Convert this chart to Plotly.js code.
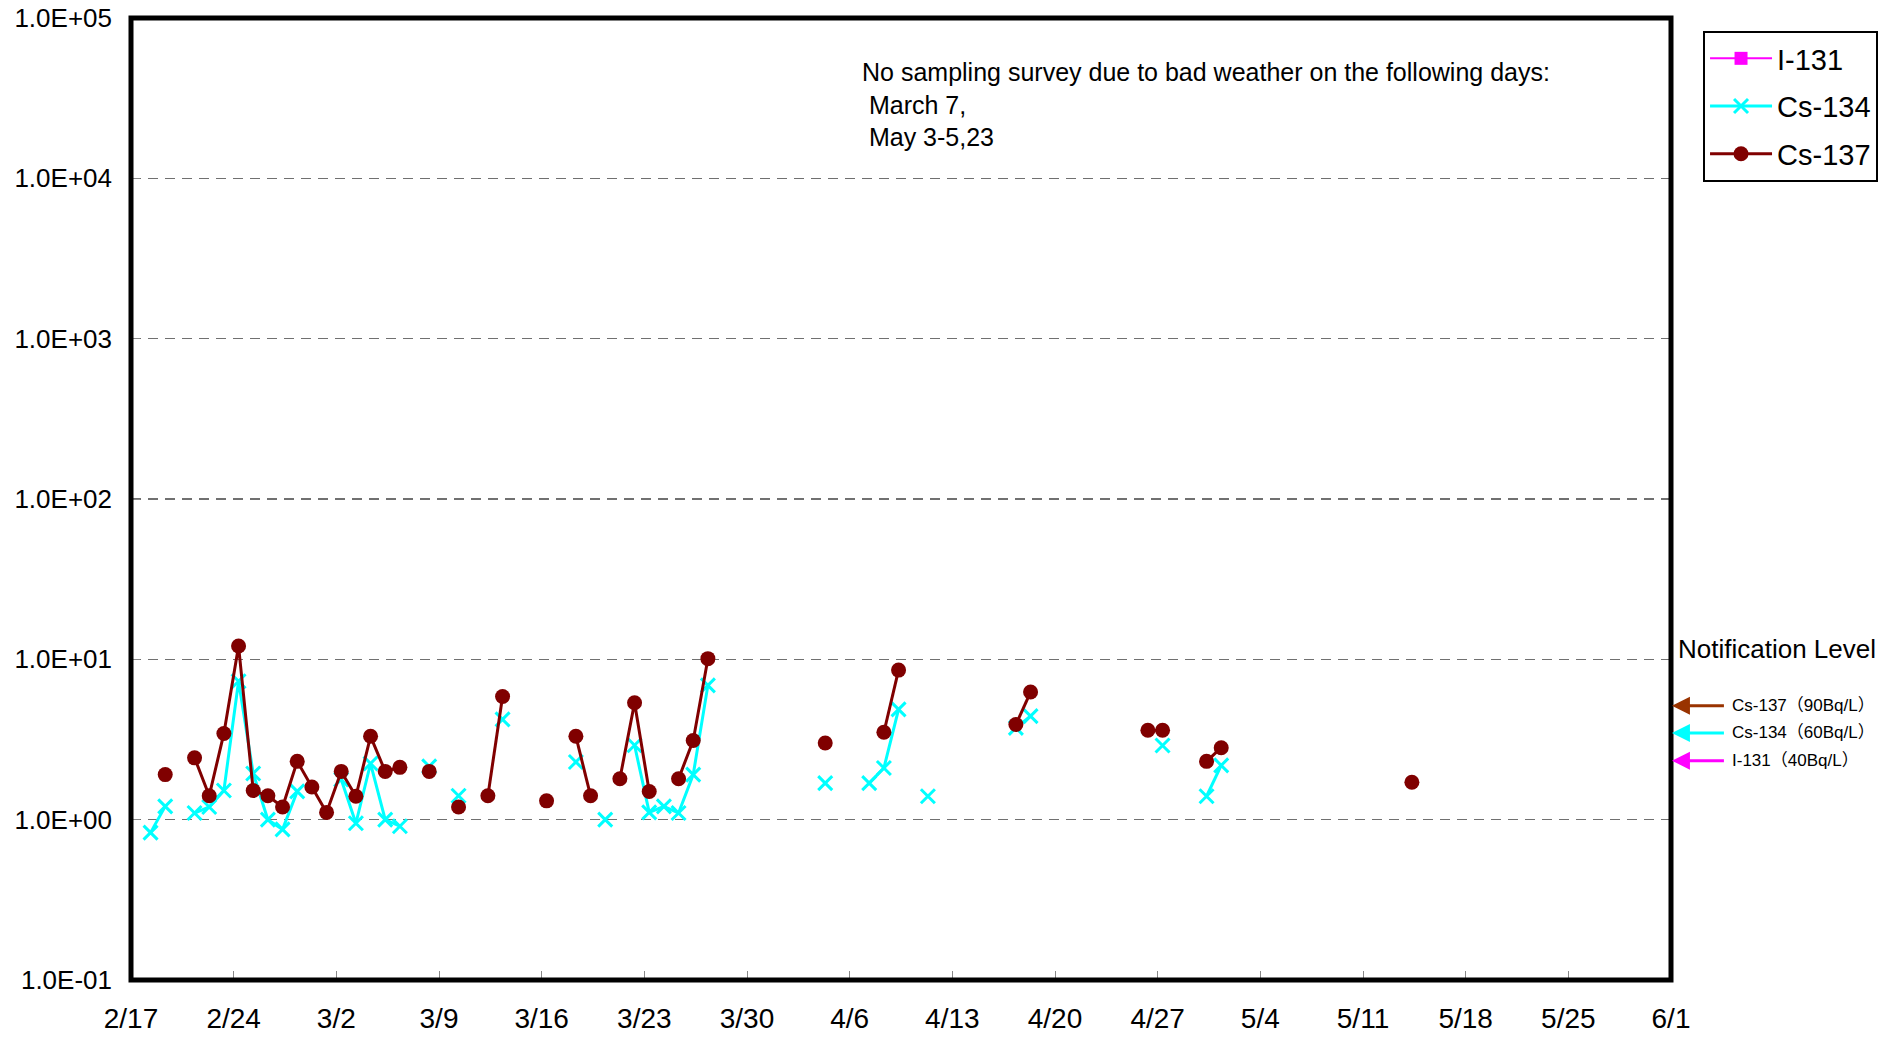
<!DOCTYPE html>
<html>
<head>
<meta charset="utf-8">
<script src="https://cdn.plot.ly/plotly-3.0.1.min.js"></script>
<style>html,body{margin:0;padding:0;background:#fff;}#chart{width:1897px;height:1037px;}</style>
</head>
<body>
<div id="chart"></div>
<script>
// ---- data (Bq/L), year 2012; missing values = not detected ----
const i131Dates = [];
const i131Values = [];

const cs134Dates = [
  '2012-02-18','2012-02-19','2012-02-21','2012-02-22','2012-02-23','2012-02-24','2012-02-25','2012-02-26',
  '2012-02-27','2012-02-28','2012-03-02','2012-03-03','2012-03-04','2012-03-05','2012-03-06','2012-03-08',
  '2012-03-10','2012-03-13','2012-03-18','2012-03-20','2012-03-22','2012-03-23','2012-03-24','2012-03-25',
  '2012-03-26','2012-03-27','2012-04-04','2012-04-07','2012-04-08','2012-04-09','2012-04-11','2012-04-17',
  '2012-04-18','2012-04-27','2012-04-30','2012-05-01'
];
const cs134Values = [
  0.83, 1.21, 1.10, 1.20, 1.52, 7.3, 1.94, 1.00,
  0.87, 1.50, 1.78, 0.95, 2.24, 1.00, 0.91, 2.15,
  1.41, 4.22, 2.29, 1.00, 2.91, 1.11, 1.21, 1.10,
  1.91, 6.88, 1.69, 1.69, 2.10, 4.87, 1.40, 3.74,
  4.42, 2.90, 1.40, 2.18
];

const cs137Dates = [
  '2012-02-19','2012-02-21','2012-02-22','2012-02-23','2012-02-24','2012-02-25','2012-02-26','2012-02-27',
  '2012-02-28','2012-02-29','2012-03-01','2012-03-02','2012-03-03','2012-03-04','2012-03-05','2012-03-06',
  '2012-03-08','2012-03-10','2012-03-12','2012-03-13','2012-03-16','2012-03-18','2012-03-19','2012-03-21',
  '2012-03-22','2012-03-23','2012-03-25','2012-03-26','2012-03-27','2012-04-04','2012-04-08','2012-04-09',
  '2012-04-17','2012-04-18','2012-04-26','2012-04-27','2012-04-30','2012-05-01','2012-05-14'
];
const cs137Values = [
  1.91, 2.43, 1.41, 3.45, 12.1, 1.52, 1.41, 1.20,
  2.31, 1.60, 1.11, 2.00, 1.40, 3.31, 2.00, 2.12,
  2.00, 1.20, 1.41, 5.87, 1.31, 3.31, 1.41, 1.80,
  5.36, 1.50, 1.80, 3.12, 10.1, 3.01, 3.51, 8.57,
  3.92, 6.25, 3.61, 3.61, 2.31, 2.81, 1.71
];

const xTickDates = ['2012-02-17','2012-02-24','2012-03-02','2012-03-09','2012-03-16','2012-03-23','2012-03-30',
  '2012-04-06','2012-04-13','2012-04-20','2012-04-27','2012-05-04','2012-05-11','2012-05-18','2012-05-25','2012-06-01'];
const xTickLabels = ['2/17','2/24','3/2','3/9','3/16','3/23','3/30','4/6','4/13','4/20','4/27','5/4','5/11','5/18','5/25','6/1'];
const yTickVals = [0.1, 1, 10, 100, 1000, 10000, 100000];
const yTickLabels = ['1.0E-01','1.0E+00','1.0E+01','1.0E+02','1.0E+03','1.0E+04','1.0E+05'];

const noteLines = ['No sampling survey due to bad weather on the following days:', ' March 7,', ' May 3-5,23'];
const levelTitle = 'Notification Level';
const levelLabels = ['Cs-137（90Bq/L）', 'Cs-134（60Bq/L）', 'I-131（40Bq/L）'];

// ---- build traces: break the line where a day has no value ----
const DAY = 86400000;
function build(dates, vals) {
  const xs = [], ys = [];
  for (let i = 0; i < dates.length; i++) {
    if (i > 0 && (new Date(dates[i]) - new Date(dates[i - 1])) > DAY * 1.5) { xs.push(null); ys.push(null); }
    xs.push(dates[i] + ' 08:00'); ys.push(vals[i]);
  }
  return {x: xs, y: ys};
}
const dI = build(i131Dates, i131Values);
const d134 = build(cs134Dates, cs134Values);
const d137 = build(cs137Dates, cs137Values);

const traces = [
  {name: 'I-131', x: dI.x.length ? dI.x : [null], y: dI.y.length ? dI.y : [null], mode: 'lines+markers', legendgroup: 'a',
   line: {color: '#FF00FF', width: 2}, marker: {symbol: 'square', size: 13, color: '#FF00FF'}},
  {name: 'Cs-134', x: d134.x, y: d134.y, mode: 'lines+markers', legendgroup: 'b', connectgaps: false,
   line: {color: '#00FFFF', width: 3}, marker: {symbol: 'x-thin', size: 14, color: '#00FFFF', line: {color: '#00FFFF', width: 3}}},
  {name: 'Cs-137', x: d137.x, y: d137.y, mode: 'lines+markers', legendgroup: 'c', connectgaps: false,
   line: {color: '#800000', width: 3}, marker: {symbol: 'circle', size: 15, color: '#800000'}}
];

const FONT = 'Liberation Sans, Arial, sans-serif';
const arrowColors = ['#993300', '#00FFFF', '#FF00FF'];
const arrowY = [0.2851, 0.2568, 0.2280];

const annotations = [
  {xref: 'paper', yref: 'paper', x: 0.4735, y: 0.96, xanchor: 'left', yanchor: 'top', align: 'left', showarrow: false,
   text: noteLines.join('<br>'), font: {family: FONT, size: 25, color: '#000'}},
  {xref: 'paper', yref: 'paper', x: 1.0035, y: 0.344, xanchor: 'left', yanchor: 'middle', showarrow: false,
   text: levelTitle, font: {family: FONT, size: 26, color: '#000'}}
];
levelLabels.forEach((t, i) => {
  annotations.push({xref: 'paper', yref: 'paper', x: 1.0006, y: arrowY[i], axref: 'pixel', ayref: 'pixel', ax: 58, ay: 0,
    xanchor: 'left', yanchor: 'middle', showarrow: true, arrowhead: 2, arrowsize: 1.2, arrowwidth: 3, arrowcolor: arrowColors[i],
    startstandoff: 6, text: t, font: {family: FONT + ', Noto Sans CJK JP', size: 17, color: '#000'}});
});

const layout = {
  width: 1897, height: 1037,
  margin: {l: 131, r: 226, t: 18, b: 57, pad: 0},
  paper_bgcolor: '#fff', plot_bgcolor: '#fff',
  showlegend: true,
  legend: {x: 1.0208, y: 0.9865, xanchor: 'left', yanchor: 'top', bordercolor: '#000', borderwidth: 2,
    bgcolor: '#fff', font: {family: FONT, size: 29, color: '#000'}, tracegroupgap: 7, traceorder: 'grouped', itemwidth: 62},
  xaxis: {type: 'date', range: ['2012-02-17', '2012-06-01'], tickmode: 'array', tickvals: xTickDates, ticktext: xTickLabels,
    showgrid: false, zeroline: false, showline: false,
    ticks: 'inside', ticklen: 9, tickwidth: 1, tickcolor: '#888', ticklabelstandoff: 19,
    tickfont: {family: FONT, size: 28, color: '#000'}, fixedrange: true},
  yaxis: {type: 'log', range: [-1, 5], tickmode: 'array', tickvals: yTickVals, ticktext: yTickLabels,
    showgrid: true, gridcolor: '#707070', gridwidth: 1.5, griddash: '10px,7px', zeroline: false,
    showline: false,
    ticks: 'inside', ticklen: 9, tickwidth: 1, tickcolor: '#888', ticklabelstandoff: 18,
    tickfont: {family: FONT, size: 26, color: '#000'}, fixedrange: true},
  shapes: [{type: 'rect', xref: 'paper', yref: 'paper', x0: 0, x1: 1, y0: 0, y1: 1, layer: 'above',
    line: {color: '#000', width: 5}, fillcolor: 'rgba(0,0,0,0)'}],
  annotations: annotations
};

Plotly.newPlot('chart', traces, layout, {displayModeBar: false, staticPlot: true});
</script>
</body>
</html>
